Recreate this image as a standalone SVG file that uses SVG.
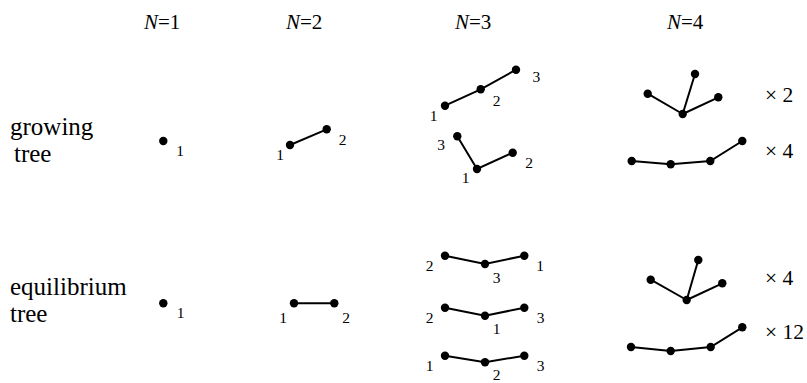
<svg xmlns="http://www.w3.org/2000/svg" width="807" height="383" viewBox="0 0 807 383">
<style>
text { font-family: "Liberation Serif", "Times New Roman", Times, "DejaVu Serif", "Noto Serif", serif; fill: #000; }
.hd { font-size: 21px; }
.row { font-size: 25px; }
.lb { font-size: 15.5px; text-anchor: middle; }
.mul { font-size: 21.5px; }
.dot { fill: #000; }
.edge { stroke: #000; stroke-width: 2; fill: none; }
</style>
<rect width="807" height="383" fill="#fff"/>
<g id="headers">
<text class="hd" x="144" y="29"><tspan font-style="italic">N</tspan>=1</text>
<text class="hd" x="286" y="29"><tspan font-style="italic">N</tspan>=2</text>
<text class="hd" x="455" y="29"><tspan font-style="italic">N</tspan>=3</text>
<text class="hd" x="667" y="29"><tspan font-style="italic">N</tspan>=4</text>
</g>
<g id="row-labels">
<text class="row" x="10" y="135">growing</text>
<text class="row" x="14" y="161.5">tree</text>
<text class="row" x="10" y="295">equilibrium</text>
<text class="row" x="10" y="321.7">tree</text>
</g>
<g id="connectors">
<line class="edge" x1="290" y1="145" x2="326.7" y2="129.3"/>
<polyline class="edge" points="445,105.7 480.7,89.3 516,69.7"/>
<polyline class="edge" points="457.3,136.3 477,169 512.7,152.7"/>
<line class="edge" x1="647.7" y1="93.7" x2="682.7" y2="114"/>
<line class="edge" x1="682.7" y1="114" x2="695" y2="74"/>
<line class="edge" x1="682.7" y1="114" x2="718.3" y2="97.3"/>
<polyline class="edge" points="631.7,161 670.7,164.3 710.3,161 742.3,141"/>
<line class="edge" x1="294" y1="303.3" x2="334.3" y2="303.3"/>
<polyline class="edge" points="445,255.7 485,264 524.3,255.7"/>
<polyline class="edge" points="445,307.7 485,315.7 524.3,307.7"/>
<polyline class="edge" points="445,355.7 485,362.3 524.3,355.7"/>
<line class="edge" x1="650.7" y1="279.7" x2="686.7" y2="300"/>
<line class="edge" x1="686.7" y1="300" x2="698.3" y2="260"/>
<line class="edge" x1="686.7" y1="300" x2="722.3" y2="283.3"/>
<polyline class="edge" points="631,347 670.7,351 710.7,347 742.3,327.3"/>
</g>
<g id="g-n1">
<circle class="dot" cx="163.3" cy="141" r="4.2"/>
<text class="lb" x="180" y="156">1</text>
</g>
<g id="g-n2">
<circle class="dot" cx="290" cy="145" r="4.2"/>
<circle class="dot" cx="326.7" cy="129.3" r="4.2"/>
<text class="lb" x="280" y="160">1</text>
<text class="lb" x="342.5" y="145">2</text>
</g>
<g id="g-n3a">
<circle class="dot" cx="445" cy="105.7" r="4.2"/>
<circle class="dot" cx="480.7" cy="89.3" r="4.2"/>
<circle class="dot" cx="516" cy="69.7" r="4.2"/>
<text class="lb" x="433.5" y="121">1</text>
<text class="lb" x="496.5" y="105.7">2</text>
<text class="lb" x="536.3" y="81.7">3</text>
</g>
<g id="g-n3b">
<circle class="dot" cx="457.3" cy="136.3" r="4.2"/>
<circle class="dot" cx="477" cy="169" r="4.2"/>
<circle class="dot" cx="512.7" cy="152.7" r="4.2"/>
<text class="lb" x="441" y="150">3</text>
<text class="lb" x="465.5" y="183">1</text>
<text class="lb" x="529" y="168">2</text>
</g>
<g id="g-n4a">
<circle class="dot" cx="647.7" cy="93.7" r="4.2"/>
<circle class="dot" cx="682.7" cy="114" r="4.2"/>
<circle class="dot" cx="695" cy="74" r="4.2"/>
<circle class="dot" cx="718.3" cy="97.3" r="4.2"/>
<text class="mul" x="765" y="101.7">× 2</text>
</g>
<g id="g-n4b">
<circle class="dot" cx="631.7" cy="161" r="4.2"/>
<circle class="dot" cx="670.7" cy="164.3" r="4.2"/>
<circle class="dot" cx="710.3" cy="161" r="4.2"/>
<circle class="dot" cx="742.3" cy="141" r="4.2"/>
<text class="mul" x="765" y="158.3">× 4</text>
</g>
<g id="e-n1">
<circle class="dot" cx="163.3" cy="303.3" r="4.2"/>
<text class="lb" x="180.5" y="318.3">1</text>
</g>
<g id="e-n2">
<circle class="dot" cx="294" cy="303.3" r="4.2"/>
<circle class="dot" cx="334.3" cy="303.3" r="4.2"/>
<text class="lb" x="283" y="323.3">1</text>
<text class="lb" x="346" y="323.3">2</text>
</g>
<g id="e-n3a">
<circle class="dot" cx="445" cy="255.7" r="4.2"/>
<circle class="dot" cx="485" cy="264" r="4.2"/>
<circle class="dot" cx="524.3" cy="255.7" r="4.2"/>
<text class="lb" x="429.5" y="271.3">2</text>
<text class="lb" x="496.5" y="283.3">3</text>
<text class="lb" x="540" y="271.3">1</text>
</g>
<g id="e-n3b">
<circle class="dot" cx="445" cy="307.7" r="4.2"/>
<circle class="dot" cx="485" cy="315.7" r="4.2"/>
<circle class="dot" cx="524.3" cy="307.7" r="4.2"/>
<text class="lb" x="429.5" y="323.3">2</text>
<text class="lb" x="496.5" y="334.3">1</text>
<text class="lb" x="540.5" y="323.3">3</text>
</g>
<g id="e-n3c">
<circle class="dot" cx="445" cy="355.7" r="4.2"/>
<circle class="dot" cx="485" cy="362.3" r="4.2"/>
<circle class="dot" cx="524.3" cy="355.7" r="4.2"/>
<text class="lb" x="429.5" y="370.7">1</text>
<text class="lb" x="496.5" y="380">2</text>
<text class="lb" x="540.5" y="370.7">3</text>
</g>
<g id="e-n4a">
<circle class="dot" cx="650.7" cy="279.7" r="4.2"/>
<circle class="dot" cx="686.7" cy="300" r="4.2"/>
<circle class="dot" cx="698.3" cy="260" r="4.2"/>
<circle class="dot" cx="722.3" cy="283.3" r="4.2"/>
<text class="mul" x="765" y="285">× 4</text>
</g>
<g id="e-n4b">
<circle class="dot" cx="631" cy="347" r="4.2"/>
<circle class="dot" cx="670.7" cy="351" r="4.2"/>
<circle class="dot" cx="710.7" cy="347" r="4.2"/>
<circle class="dot" cx="742.3" cy="327.3" r="4.2"/>
<text class="mul" x="765" y="339.3">× 12</text>
</g>
</svg>
